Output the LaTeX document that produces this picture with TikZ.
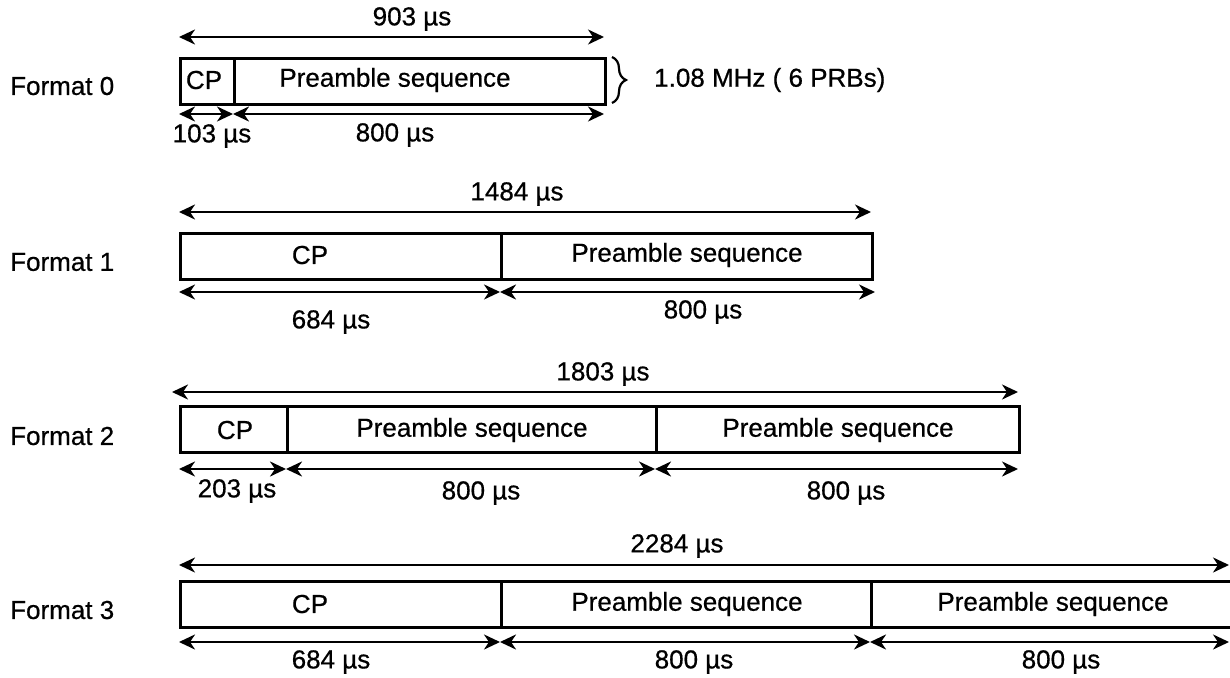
\documentclass[tikz,border=0pt]{standalone}
\usepackage{fontspec}
\setmainfont{Liberation Sans}[FakeBold=0.6]
\usetikzlibrary{arrows.meta,decorations.pathreplacing}
\begin{document}
\begin{tikzpicture}[x=1pt,y=-1pt,
  seg/.style={draw,line width=2.8pt,minimum height=46pt,inner sep=0pt,anchor=north west},
  lbl/.style={font=\fontsize{26}{30}\selectfont,inner sep=0pt},
  dim/.style={line width=2.5pt,{Stealth[length=16pt,width=15pt,inset=5pt]}-{Stealth[length=16pt,width=15pt,inset=5pt]}}]
\useasboundingbox (0,0) rectangle (1230,677);
% ---------- Format 0
\node[lbl,anchor=west] (f0) at (10,86) {Format 0};
\node[seg,minimum width=54pt] (cp0) at (179,57) {};
\node[seg,minimum width=371pt] (ps0) at (233,57) {};
\node[lbl] (cp0t) at (204,80) {CP};
\node[lbl] (ps0t) at (395,80) {Preamble sequence};
\coordinate (t0a) at (179,37); \coordinate (t0b) at (604,37);
\draw[dim] (t0a) -- (t0b);
\node[lbl] (l903) at (412,19) {903 µs};
\coordinate (b0a) at (179,114); \coordinate (b0b) at (233,114); \coordinate (b0c) at (604,114);
\draw[dim] (b0a) -- (b0b);
\draw[dim] (b0b) -- (b0c);
\node[lbl] (l103) at (212,136) {103 µs};
\node[lbl] (l800a) at (395,135) {800 µs};
\coordinate (br0a) at (612,57); \coordinate (br0b) at (612,103);
\draw[line width=2.2pt,decorate,decoration={brace,amplitude=14pt}] (br0a) -- (br0b);
\node[lbl,anchor=west] (bw) at (654,80) {1.08 MHz ( 6 PRBs)};
% ---------- Format 1
\node[lbl,anchor=west] (f1) at (10,262) {Format 1};
\node[seg,minimum width=321pt] (cp1) at (179,232) {};
\node[seg,minimum width=371pt] (ps1) at (500,232) {};
\node[lbl] (cp1t) at (310,255) {CP};
\node[lbl] (ps1t) at (687,255) {Preamble sequence};
\coordinate (t1a) at (179,212); \coordinate (t1b) at (871,212);
\draw[dim] (t1a) -- (t1b);
\node[lbl] (l1484) at (517,194) {1484 µs};
\coordinate (b1a) at (179,292); \coordinate (b1b) at (500,292); \coordinate (b1c) at (875,292);
\draw[dim] (b1a) -- (b1b);
\draw[dim] (b1b) -- (b1c);
\node[lbl] (l684a) at (331,322) {684 µs};
\node[lbl] (l800b) at (703,312) {800 µs};
% ---------- Format 2
\node[lbl,anchor=west] (f2) at (10,436) {Format 2};
\node[seg,minimum width=107pt] (cp2) at (179,405) {};
\node[seg,minimum width=369pt] (ps2a) at (286,405) {};
\node[seg,minimum width=363pt] (ps2b) at (655,405) {};
\node[lbl] (cp2t) at (235,430) {CP};
\node[lbl] (ps2at) at (472,430) {Preamble sequence};
\node[lbl] (ps2bt) at (838,430) {Preamble sequence};
\coordinate (t2a) at (172,392); \coordinate (t2b) at (1018,392);
\draw[dim] (t2a) -- (t2b);
\node[lbl] (l1803) at (603,374) {1803 µs};
\coordinate (b2a) at (179,469); \coordinate (b2b) at (286,469); \coordinate (b2c) at (655,469); \coordinate (b2d) at (1018,469);
\draw[dim] (b2a) -- (b2b);
\draw[dim] (b2b) -- (b2c);
\draw[dim] (b2c) -- (b2d);
\node[lbl] (l203) at (237,491) {203 µs};
\node[lbl] (l800c) at (481,493) {800 µs};
\node[lbl] (l800d) at (846,493) {800 µs};
% ---------- Format 3
\node[lbl,anchor=west] (f3) at (10,610) {Format 3};
\node[seg,minimum width=321pt] (cp3) at (179,580) {};
\node[seg,minimum width=370pt] (ps3a) at (500,580) {};
\node[seg,minimum width=370pt] (ps3b) at (870,580) {};
\node[lbl] (cp3t) at (310,604) {CP};
\node[lbl] (ps3at) at (687,604) {Preamble sequence};
\node[lbl] (ps3bt) at (1053,604) {Preamble sequence};
\coordinate (t3a) at (179,565); \coordinate (t3b) at (1229,565);
\draw[dim] (t3a) -- (t3b);
\node[lbl] (l2284) at (677,546) {2284 µs};
\coordinate (b3a) at (179,642); \coordinate (b3b) at (500,642); \coordinate (b3c) at (870,642); \coordinate (b3d) at (1229,642);
\draw[dim] (b3a) -- (b3b);
\draw[dim] (b3b) -- (b3c);
\draw[dim] (b3c) -- (b3d);
\node[lbl] (l684b) at (331,662) {684 µs};
\node[lbl] (l800e) at (694,662) {800 µs};
\node[lbl] (l800f) at (1061,662) {800 µs};
\end{tikzpicture}
\end{document}
